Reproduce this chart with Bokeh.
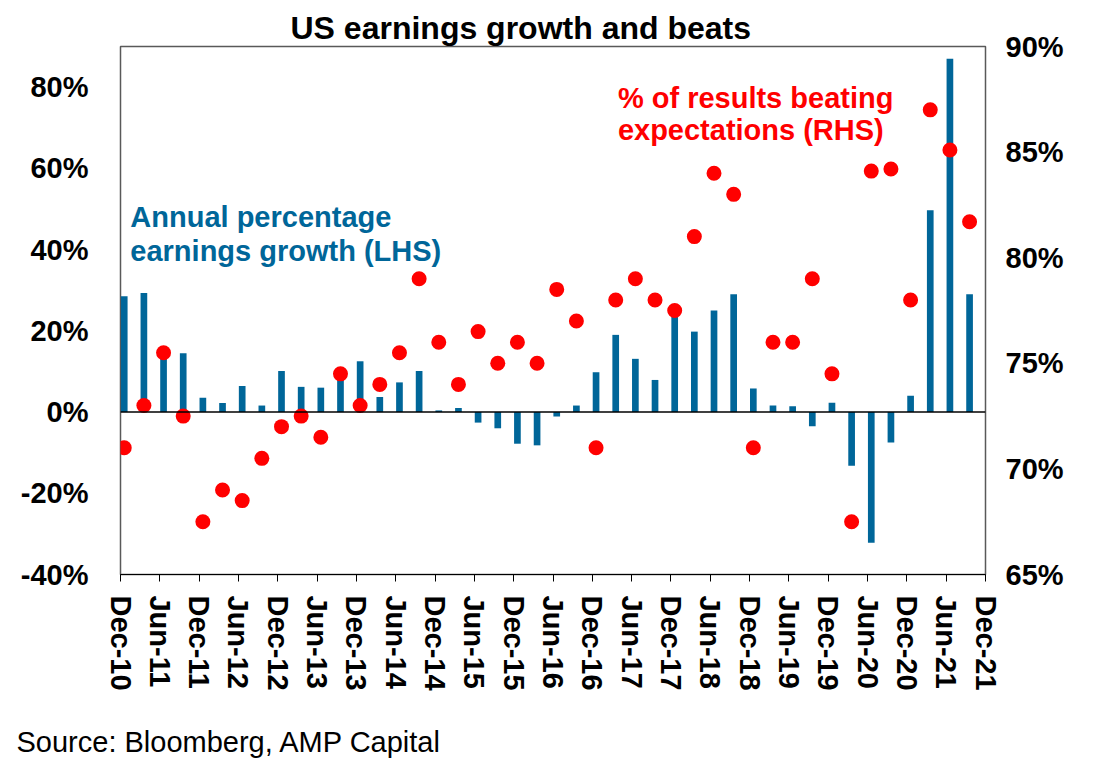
from bokeh.plotting import figure
from bokeh.models import (Range1d, LinearAxis, FixedTicker, Span, Label, Title,
                          ColumnDataSource, PrintfTickFormatter)
from bokeh.embed import file_html
from bokeh.resources import INLINE

# quarterly, Dec-10 .. Sep-21
growth = [28.5, 29.3, 14.2, 14.5, 3.5, 2.2, 6.4, 1.6, 10.1, 6.2, 6.0, 8.8,
          12.5, 3.7, 7.3, 10.1, 0.4, 1.0, -2.6, -4.0, -7.8, -8.2, -1.1, 1.6,
          9.8, 19.0, 13.1, 7.9, 24.2, 19.8, 25.0, 29.0, 5.8, 1.6, 1.4, -3.5,
          2.3, -13.2, -32.2, -7.5, 4.0, 49.7, 87.0, 29.0]
beats = [71, 73, 75.5, 72.5, 67.5, 69, 68.5, 70.5, 72, 72.5, 71.5, 74.5,
         73, 74, 75.5, 79, 76, 74, 76.5, 75, 76, 75, 78.5, 77,
         71, 78, 79, 78, 77.5, 81, 84, 83, 71, 76, 76, 79,
         74.5, 67.5, 84.1, 84.2, 78, 87, 85.1, 81.7]
tick_labels = ["Dec-10", "Jun-11", "Dec-11", "Jun-12", "Dec-12", "Jun-13",
               "Dec-13", "Jun-14", "Dec-14", "Jun-15", "Dec-15", "Jun-16",
               "Dec-16", "Jun-17", "Dec-17", "Jun-18", "Dec-18", "Jun-19",
               "Dec-19", "Jun-20", "Dec-20", "Jun-21", "Dec-21"]

FONT = "Liberation Sans"
BLUE = "#006699"
RED = "#ff0000"

src = ColumnDataSource(dict(x=[i + 0.19 for i in range(len(growth))],
                            growth=growth, beats=beats))

p = figure(width=1100, height=760, output_backend="svg", toolbar_location=None,
           x_range=Range1d(0, 44), y_range=Range1d(-40, 90),
           min_border_left=120, min_border_right=115,
           min_border_top=46, min_border_bottom=186)
p.extra_y_ranges = {"rhs": Range1d(65, 90)}
p.grid.visible = False
p.outline_line_color = "#595959"
p.outline_line_width = 1.5

p.vbar(x="x", top="growth", bottom=0, width=0.34, source=src,
       fill_color=BLUE, line_color=None)
p.add_layout(Span(location=0, dimension="width", line_color="black", line_width=1.5))
p.scatter(x="x", y="beats", y_range_name="rhs", size=15, source=src,
          fill_color=RED, line_color=None)

# axes
ticks_x = list(range(0, 45, 2))
p.xaxis.ticker = FixedTicker(ticks=ticks_x)
p.xaxis.major_label_overrides = {t: lab for t, lab in zip(ticks_x, tick_labels)}
p.xaxis.major_label_orientation = "vertical"
p.xaxis.minor_tick_line_color = None
p.xaxis.major_tick_out = 7
p.xaxis.major_tick_in = 0
p.xaxis.major_label_standoff = 14
p.xaxis.axis_line_color = "black"

p.yaxis.ticker = FixedTicker(ticks=[-40, -20, 0, 20, 40, 60, 80])
p.yaxis.formatter = PrintfTickFormatter(format="%d%%")
p.yaxis.major_tick_line_color = None
p.yaxis.minor_tick_line_color = None
p.yaxis.axis_line_color = None
p.yaxis.major_label_standoff = 26

rax = LinearAxis(y_range_name="rhs", ticker=FixedTicker(ticks=[65, 70, 75, 80, 85, 90]),
                 formatter=PrintfTickFormatter(format="%d%%"))
rax.major_tick_line_color = None
rax.minor_tick_line_color = None
rax.axis_line_color = None
rax.major_label_standoff = 14
p.add_layout(rax, "right")

for ax in (p.xaxis[0], p.yaxis[0], rax):
    ax.major_label_text_font = FONT
    ax.major_label_text_font_style = "bold"
    ax.major_label_text_font_size = "29px"
    ax.major_label_text_color = "black"

# annotations
for txt, yy in (("Annual percentage", 48.0), ("earnings growth (LHS)", 39.6)):
    p.add_layout(Label(x=0.5, y=yy, text=txt, text_font=FONT, text_font_style="bold",
                       text_font_size="29px", text_color=BLUE, text_baseline="middle"))
for txt, yy in (("% of results beating", 77.3), ("expectations (RHS)", 69.4)):
    p.add_layout(Label(x=25.3, y=yy, text=txt, text_font=FONT, text_font_style="bold",
                       text_font_size="29px", text_color=RED, text_baseline="middle"))

p.title = Title(text="US earnings growth and beats", align="left", offset=170,
                text_font=FONT, text_font_style="bold", text_font_size="32px",
                text_color="black", standoff=2)

# spacer, then the source note
p.add_layout(Title(text=" ", text_font_size="20px", standoff=6), "below")
p.add_layout(Title(text="Source: Bloomberg, AMP Capital", align="left", offset=-104,
                   text_font=FONT, text_font_style="normal", text_font_size="29px",
                   text_color="black", standoff=0), "below")

open("out.html", "w").write(file_html(p, INLINE))
